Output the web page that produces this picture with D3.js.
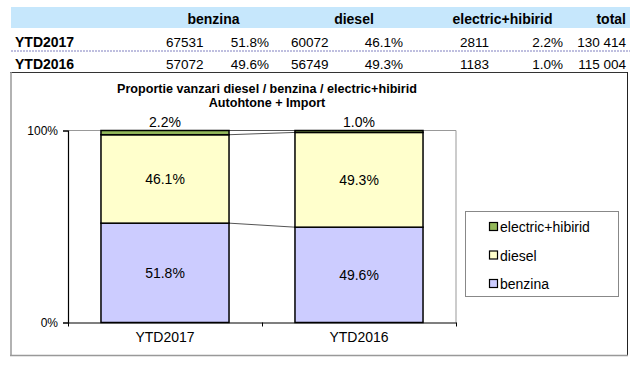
<!DOCTYPE html>
<html><head><meta charset="utf-8">
<script src="https://cdn.jsdelivr.net/npm/d3@7"></script>
<style>body{margin:0;background:#fff}svg{display:block;font-family:"Liberation Sans",Arial,sans-serif}</style>
</head><body>
<svg id="c" width="640" height="367"></svg>
<script>
const categories = ["YTD2017", "YTD2016"];
const seriesNames = ["benzina", "diesel", "electric+hibirid"];
const benzina = [67531, 57072];
const diesel = [60072, 56749];
const electric = [2811, 1183];
const totals = ["130 414", "115 004"];
const benzinaPct = [51.8, 49.6];
const dieselPct = [46.1, 49.3];
const electricPct = [2.2, 1.0];
const yTicks = [0, 1];
const colors = {"benzina": "#CCCCFF", "diesel": "#FFFFCC", "electric+hibirid": "#93B85A"};

const svg = d3.select("#c");

// ---- table ----
svg.append("rect").attr("x", 11).attr("y", 7).attr("width", 619).attr("height", 21).attr("fill", "#C6E7FC");
const hdr = [["benzina", 213.5, "middle"], ["diesel", 354, "middle"], ["electric+hibirid", 502.5, "middle"], ["total", 626, "end"]];
svg.selectAll("text.hdr").data(hdr).join("text").attr("class", "hdr")
  .attr("x", d => d[1]).attr("y", 24).attr("text-anchor", d => d[2])
  .attr("font-size", 14).attr("font-weight", "bold").text(d => d[0]);

const rowsY = [46.5, 69];
categories.forEach((c, i) => {
  const g = svg.append("g");
  const cells = [
    [c, 15, "start", true],
    [benzina[i], 166, "start"],
    [benzinaPct[i].toFixed(1) + "%", 269, "end"],
    [diesel[i], 291, "start"],
    [dieselPct[i].toFixed(1) + "%", 403, "end"],
    [electric[i], 460, "start"],
    [electricPct[i].toFixed(1) + "%", 563, "end"],
    [totals[i], 626, "end"]
  ];
  g.selectAll("text").data(cells).join("text")
    .attr("x", d => d[1]).attr("y", rowsY[i]).attr("text-anchor", d => d[2])
    .attr("font-size", d => d[3] ? 14 : 13.5).attr("font-weight", d => d[3] ? "bold" : "normal").text(d => d[0]);
});
svg.append("line").attr("x1", 11).attr("x2", 630).attr("y1", 51).attr("y2", 51)
  .attr("stroke", "#8080C0").attr("stroke-width", 1.2).attr("stroke-dasharray", "2,1");

// ---- chart frame ----
svg.append("line").attr("x1", 10).attr("x2", 628).attr("y1", 72.5).attr("y2", 72.5).attr("stroke", "#333");
svg.append("line").attr("x1", 627.5).attr("x2", 627.5).attr("y1", 72).attr("y2", 356).attr("stroke", "#222");
svg.append("line").attr("x1", 11).attr("x2", 11).attr("y1", 72).attr("y2", 356).attr("stroke", "#999").attr("stroke-width", 1.5);
svg.append("line").attr("x1", 10).attr("x2", 628).attr("y1", 355.5).attr("y2", 355.5).attr("stroke", "#999").attr("stroke-width", 1.5);

// title
svg.append("text").attr("x", 267).attr("y", 93).attr("text-anchor", "middle").attr("font-size", 12.6).attr("font-weight", "bold")
  .text("Proportie vanzari diesel / benzina / electric+hibirid");
svg.append("text").attr("x", 267).attr("y", 107).attr("text-anchor", "middle").attr("font-size", 12.6).attr("font-weight", "bold")
  .text("Autohtone + Import");

// scales
const x = d3.scaleBand().domain(categories).range([68, 456]).paddingInner(0.34).paddingOuter(0.17);
const y = d3.scaleLinear().domain([0, 1]).range([322.5, 130.5]);

// plot area border (top/right gray)
svg.append("path").attr("d", `M68,${y(1)}H456V${y(0)}`).attr("fill", "none").attr("stroke", "#999");

// stacked data
const data = categories.map((c, i) => ({cat: c, "benzina": benzinaPct[i] / 100, "diesel": dieselPct[i] / 100, "electric+hibirid": electricPct[i] / 100}));
const stack = d3.stack().keys(seriesNames)(data);
data.forEach((d, i) => {
  const tot = d["benzina"] + d["diesel"] + d["electric+hibirid"];
  stack.forEach(s => { s[i][0] /= tot; s[i][1] /= tot; });
});

// connector lines
stack.forEach(s => {
  svg.append("line")
    .attr("x1", x(categories[0]) + x.bandwidth()).attr("y1", y(s[0][1]))
    .attr("x2", x(categories[1])).attr("y2", y(s[1][1]))
    .attr("stroke", "#555").attr("stroke-width", 1);
});

// bars
stack.forEach(s => {
  svg.append("g").selectAll("rect").data(s).join("rect")
    .attr("x", d => x(d.data.cat)).attr("width", x.bandwidth())
    .attr("y", d => y(d[1])).attr("height", d => y(d[0]) - y(d[1]))
    .attr("fill", colors[s.key]).attr("stroke", "#000").attr("stroke-width", 1.5);
});

// labels
stack.forEach(s => {
  svg.append("g").selectAll("text").data(s).join("text")
    .attr("x", d => x(d.data.cat) + x.bandwidth() / 2)
    .attr("y", d => s.key === "electric+hibirid" ? y(d[1]) - 4 : (y(d[0]) + y(d[1])) / 2 + 5)
    .attr("text-anchor", "middle").attr("font-size", 14)
    .text(d => (d.data[s.key] * 100).toFixed(1) + "%");
});

// axes
const yAxis = svg.append("g").attr("transform", "translate(68,0)")
  .call(d3.axisLeft(y).tickValues(yTicks).tickFormat(d3.format(".0%")).tickSize(5).tickPadding(5));
yAxis.select(".domain").attr("stroke", "#000").attr("stroke-width", 1.2);
yAxis.selectAll("text").attr("font-size", 12).attr("font-family", "Liberation Sans, Arial, sans-serif").attr("fill", "#000");

const bx = d3.scaleLinear().domain([0, 2]).range([68, 456]);
const xAxis = svg.append("g").attr("transform", `translate(0,${y(0)})`)
  .call(d3.axisBottom(bx).tickValues([0, 1, 2]).tickFormat("").tickSize(4).tickSizeOuter(0));
xAxis.select(".domain").attr("stroke", "#000").attr("stroke-width", 1.2);
svg.append("g").selectAll("text").data(categories).join("text")
  .attr("x", d => x(d) + x.bandwidth() / 2).attr("y", 342).attr("text-anchor", "middle")
  .attr("font-size", 14).text(d => d);

// legend
svg.append("rect").attr("x", 465.5).attr("y", 211.5).attr("width", 153).attr("height", 85)
  .attr("fill", "#fff").attr("stroke", "#888");
const legendItems = seriesNames.slice().reverse();
const lg = svg.append("g").selectAll("g").data(legendItems).join("g")
  .attr("transform", (d, i) => `translate(489,${227 + i * 28.5})`);
lg.append("rect").attr("x", 0.5).attr("y", -4.5).attr("width", 8).attr("height", 8)
  .attr("fill", d => colors[d]).attr("stroke", "#000").attr("stroke-width", 1.2);
lg.append("text").attr("x", 11).attr("y", 5).attr("font-size", 14).text(d => d);
</script>
</body></html>
